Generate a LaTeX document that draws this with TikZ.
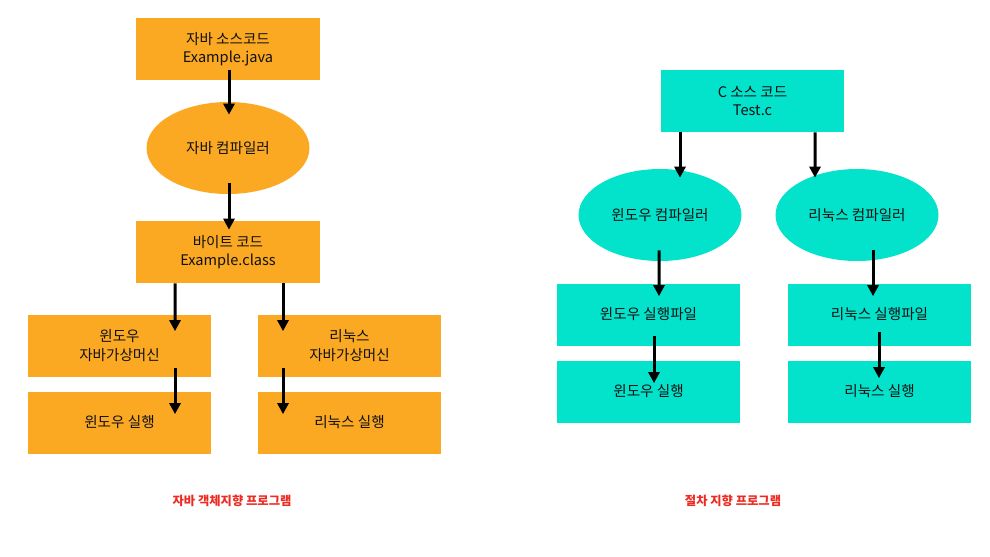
\documentclass[tikz,border=0pt]{standalone}
\usepackage{fontspec}
\usepackage{xcolor}
\usepackage{tikz}
\usetikzlibrary{arrows.meta,shapes.geometric,calc}
\newfontfamily\kr{Noto Sans CJK KR}
\definecolor{javaorg}{HTML}{FBA823}
\definecolor{ctea}{HTML}{03E2CB}
\definecolor{labred}{HTML}{EC2B23}
\definecolor{ink}{HTML}{111111}

\begin{document}
\begin{tikzpicture}[x=0.02cm,y=-0.02cm,>=Stealth,
  boxj/.style={rectangle,fill=javaorg,minimum width=3.68cm,minimum height=1.24cm,inner sep=0pt,align=center,text=ink,font=\kr\fontsize{8.3}{10.4}\selectfont},
  ellj/.style={ellipse,fill=javaorg,minimum width=3.26cm,minimum height=1.84cm,inner sep=0pt,align=center,text=ink,font=\kr\fontsize{8.3}{10.4}\selectfont},
  boxc/.style={boxj,fill=ctea},
  ellc/.style={ellj,fill=ctea},
  arr/.style={-{Triangle[width=0.22cm,length=0.22cm]},line width=0.06cm,black},
  captext/.style={text=labred,font=\kr\bfseries\fontsize{7}{8}\selectfont}]
\useasboundingbox (0,0) rectangle (990,556);
% ---------- left: java ----------
\node[boxj] (jsrc) at (228,49) {자바 소스코드\\Example.java};
\node[ellj] (jcomp) at (228,148) {자바 컴파일러};
\node[boxj] (jbyte) at (228,252) {바이트 코드\\Example.class};
\node[boxj] (wjvm) at (119.5,345.5) {윈도우\\자바가상머신};
\node[boxj] (ljvm) at (349.5,345.5) {리눅스\\자바가상머신};
\node[boxj] (wrunj) at (119.5,422.5) {윈도우 실행};
\node[boxj] (lrunj) at (349.5,422.5) {리눅스 실행};
\draw[arr] ($(jsrc.south)+(1,-10)$) -- ($(jcomp.north)+(1,13)$);
\draw[arr] ($(jcomp.south)+(1,-11)$) -- ($(jbyte.north)+(1,9)$);
\draw[arr] ($(jbyte.south)+(-53,0)$) -- ($(wjvm.north)+(55.5,17)$);
\draw[arr] ($(jbyte.south)+(55,0)$) -- ($(ljvm.north)+(-66.5,17)$);
\draw[arr] ($(wjvm.south)+(55.5,-9)$) -- ($(wrunj.north)+(55.5,23)$);
\draw[arr] ($(ljvm.south)+(-66.5,-9)$) -- ($(lrunj.north)+(-66.5,23)$);
\node[captext] (jcap) at (232,501) {자바 객체지향 프로그램};
% ---------- right: c ----------
\node[boxc] (csrc) at (752.5,101) {C 소스 코드\\Test.c};
\node[ellc] (wcomp) at (660,215) {윈도우 컴파일러};
\node[ellc] (lcomp) at (857,215) {리눅스 컴파일러};
\node[boxc] (wexe) at (648.5,314.5) {윈도우 실행파일};
\node[boxc] (lexe) at (879.5,314.5) {리눅스 실행파일};
\node[boxc] (wrunc) at (648.5,391.5) {윈도우 실행};
\node[boxc] (lrunc) at (879.5,391.5) {리눅스 실행};
\draw[arr] ($(csrc.south)+(-72.5,0)$) -- ($(wcomp.north)+(20,9)$);
\draw[arr] ($(csrc.south)+(62.5,0)$) -- ($(lcomp.north)+(-42,9)$);
\draw[arr] ($(wcomp.south)+(-1,-11)$) -- ($(wexe.north)+(10.5,13)$);
\draw[arr] ($(lcomp.south)+(16,-11)$) -- ($(lexe.north)+(-6.5,13)$);
\draw[arr] ($(wexe.south)+(5.5,-10)$) -- ($(wrunc.north)+(5.5,23)$);
\draw[arr] ($(lexe.south)+(-0.5,-14)$) -- ($(lrunc.north)+(-0.5,18)$);
\node[captext] (ccap) at (733,501) {절차 지향 프로그램};
\end{tikzpicture}
\end{document}
